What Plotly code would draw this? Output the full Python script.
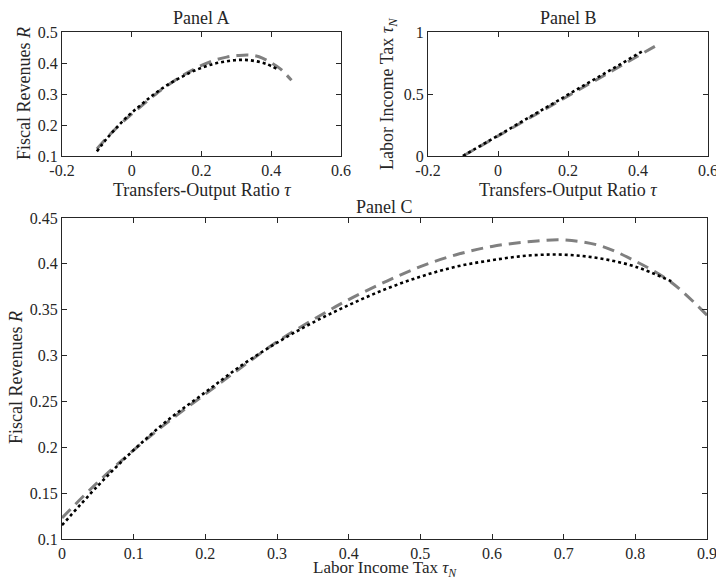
import plotly.graph_objects as go

# ---- data ----
tauN_dash = [0, 0.05, 0.1, 0.15, 0.2, 0.25, 0.3, 0.35, 0.4, 0.45, 0.5, 0.55, 0.6, 0.65, 0.7, 0.75, 0.8, 0.85, 0.9]
R_dash = [0.123, 0.162, 0.197, 0.229, 0.258, 0.287, 0.315, 0.339, 0.361, 0.380, 0.397, 0.410, 0.419, 0.424, 0.426, 0.420, 0.403, 0.380, 0.344]
tau_dash = [-0.100, -0.069, -0.038, -0.007, 0.024, 0.055, 0.086, 0.117, 0.148, 0.179, 0.210, 0.241, 0.272, 0.303, 0.334, 0.365, 0.396, 0.427, 0.458]

tauN_dot = [0, 0.05, 0.1, 0.15, 0.2, 0.25, 0.3, 0.35, 0.4, 0.45, 0.5, 0.55, 0.6, 0.65, 0.7, 0.75, 0.8, 0.85]
R_dot = [0.115, 0.158, 0.197, 0.231, 0.260, 0.289, 0.314, 0.336, 0.355, 0.372, 0.386, 0.397, 0.404, 0.409, 0.410, 0.406, 0.397, 0.381]
tau_dot = [-0.100, -0.070, -0.039, -0.009, 0.021, 0.052, 0.082, 0.112, 0.143, 0.173, 0.204, 0.234, 0.264, 0.295, 0.325, 0.355, 0.386, 0.416]

tauticks = [-0.2, 0, 0.2, 0.4, 0.6]
tauticklabels = ["-0.2", "0", "0.2", "0.4", "0.6"]
RticksA = [0.1, 0.2, 0.3, 0.4, 0.5]
RticklabelsA = ["0.1", "0.2", "0.3", "0.4", "0.5"]
tauNticksB = [0, 0.5, 1]
tauNticklabelsB = ["0", "0.5", "1"]
tauNticksC = [0, 0.1, 0.2, 0.3, 0.4, 0.5, 0.6, 0.7, 0.8, 0.9]
tauNticklabelsC = ["0", "0.1", "0.2", "0.3", "0.4", "0.5", "0.6", "0.7", "0.8", "0.9"]
RticksC = [0.1, 0.15, 0.2, 0.25, 0.3, 0.35, 0.4, 0.45]
RticklabelsC = ["0.1", "0.15", "0.2", "0.25", "0.3", "0.35", "0.4", "0.45"]

FONT = "Liberation Serif"
TXT = "#262626"
DASH = dict(color="#808080", width=3, dash="12px,7px")
DOT = dict(color="black", width=2.6, dash="dot")

fig = go.Figure()
# Panel A
fig.add_trace(go.Scatter(x=tau_dash, y=R_dash, mode="lines", line=DASH, xaxis="x", yaxis="y", line_shape="spline"))
fig.add_trace(go.Scatter(x=tau_dot, y=R_dot, mode="lines", line=DOT, xaxis="x", yaxis="y", line_shape="spline"))
# Panel B
fig.add_trace(go.Scatter(x=tau_dash, y=tauN_dash, mode="lines", line=DASH, xaxis="x2", yaxis="y2"))
fig.add_trace(go.Scatter(x=tau_dot, y=tauN_dot, mode="lines", line=DOT, xaxis="x2", yaxis="y2"))
# Panel C
fig.add_trace(go.Scatter(x=tauN_dash, y=R_dash, mode="lines", line=DASH, xaxis="x3", yaxis="y3", line_shape="spline"))
fig.add_trace(go.Scatter(x=tauN_dot, y=R_dot, mode="lines", line=DOT, xaxis="x3", yaxis="y3", line_shape="spline"))

axstyle = dict(showline=True, linecolor=TXT, linewidth=1, mirror="allticks", automargin=False,
               ticks="inside", ticklen=5, tickcolor=TXT, showgrid=False, zeroline=False,
               ticklabeloverflow="allow",
               tickfont=dict(family=FONT, size=16, color=TXT))
W, H = 716, 579
TF = dict(family=FONT, size=18, color=TXT)


def dom(a, b, total, flip=False):
    if flip:
        return [1 - b / total, 1 - a / total]
    return [a / total, b / total]


def ann(text, px, py, angle=0, size=18):
    return dict(text=text, x=px / W, y=1 - py / H, xref="paper", yref="paper", showarrow=False,
                xanchor="center", yanchor="middle", textangle=angle, font=dict(TF, size=size))


fig.update_layout(
    width=W, height=H, margin=dict(l=0, r=0, t=0, b=0, autoexpand=False),
    paper_bgcolor="white", plot_bgcolor="white", showlegend=False,
    font=dict(family=FONT, color=TXT),
    xaxis=dict(axstyle, domain=dom(62, 341, W), range=[-0.2, 0.6], tickvals=tauticks, ticktext=tauticklabels, anchor="y"),
    yaxis=dict(axstyle, domain=dom(32, 156, H, True), range=[0.1, 0.5], tickvals=RticksA, ticktext=RticklabelsA, anchor="x"),
    xaxis2=dict(axstyle, domain=dom(428, 708, W), range=[-0.2, 0.6], tickvals=tauticks, ticktext=tauticklabels, anchor="y2"),
    yaxis2=dict(axstyle, domain=dom(32, 156, H, True), range=[0, 1], tickvals=tauNticksB, ticktext=tauNticklabelsB, anchor="x2"),
    xaxis3=dict(axstyle, domain=dom(62, 707, W), range=[0, 0.9], tickvals=tauNticksC, ticktext=tauNticklabelsC, anchor="y3"),
    yaxis3=dict(axstyle, domain=dom(218, 539, H, True), range=[0.1, 0.45], tickvals=RticksC, ticktext=RticklabelsC, anchor="x3"),
    annotations=[
        ann("Panel A", (62 + 341) / 2, 18),
        ann("Panel B", (428 + 708) / 2, 18),
        ann("Panel C", (62 + 707) / 2, 207),
        ann("Transfers-Output Ratio <i>τ</i>", (62 + 341) / 2, 190),
        ann("Transfers-Output Ratio <i>τ</i>", (428 + 708) / 2, 190),
        ann("Labor Income Tax <i>τ<sub>N</sub></i>", (62 + 707) / 2, 569, 0, 17),
        ann("Fiscal Revenues <i>R</i>", 24, 94, -90),
        ann("Labor Income Tax <i>τ<sub>N</sub></i>", 389, 94, -90),
        ann("Fiscal Revenues <i>R</i>", 16, 378, -90),
    ],
)

fig.write_html("out.html", config={"displayModeBar": False},
               post_script="document.body.style.margin='0';document.body.style.overflow='hidden';")
